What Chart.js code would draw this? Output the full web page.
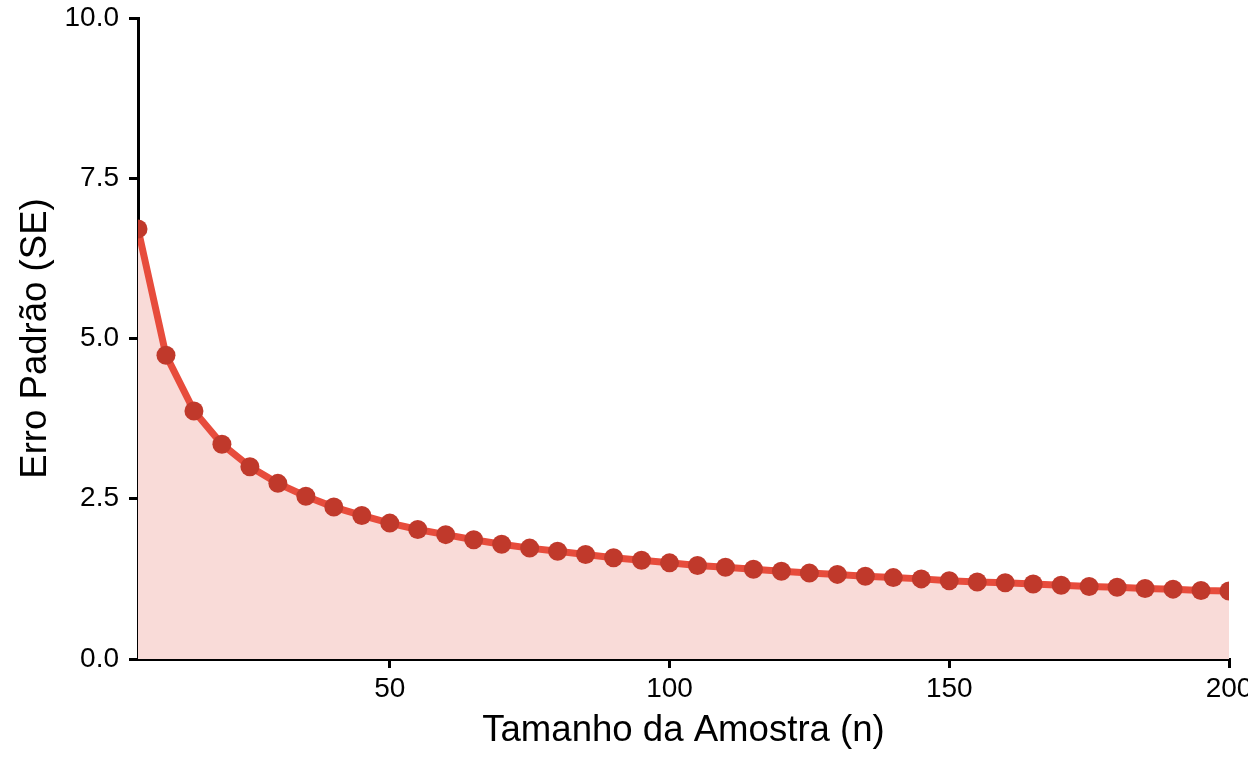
<!DOCTYPE html>
<html>
<head>
<meta charset="utf-8">
<script src="https://cdn.jsdelivr.net/npm/chart.js@4"></script>
<style>
  html, body { margin: 0; padding: 0; background: #ffffff; overflow: hidden; width: 1248px; height: 768px; }
  #wrap { width: 1248px; height: 768px; }
</style>
</head>
<body>
<div id="wrap"><canvas id="c" width="1248" height="768"></canvas></div>
<script>
// Sample size n
const sampleSizes = [5, 10, 15, 20, 25, 30, 35, 40, 45, 50, 55, 60, 65, 70, 75, 80, 85, 90, 95, 100,
  105, 110, 115, 120, 125, 130, 135, 140, 145, 150, 155, 160, 165, 170, 175, 180, 185, 190, 195, 200];
// Standard error
const standardErrors = [6.71, 4.74, 3.87, 3.35, 3.00, 2.74, 2.54, 2.37, 2.24, 2.12, 2.02, 1.94, 1.86, 1.79, 1.73,
  1.68, 1.63, 1.58, 1.54, 1.50, 1.46, 1.43, 1.40, 1.37, 1.34, 1.32, 1.29, 1.27, 1.25, 1.22,
  1.20, 1.19, 1.17, 1.15, 1.13, 1.12, 1.10, 1.09, 1.07, 1.06];
const xTicks = [50, 100, 150, 200];
const yTicks = [0, 2.5, 5, 7.5, 10];
const xTitle = 'Tamanho da Amostra (n)';
const yTitle = 'Erro Padrão (SE)';

const points = sampleSizes.map((n, i) => ({ x: n, y: standardErrors[i] }));
const FONT = 'Liberation Sans, Arial, sans-serif';

new Chart(document.getElementById('c'), {
  type: 'line',
  data: {
    datasets: [{
      data: points,
      borderColor: '#E74C3C',
      borderWidth: 7,
      backgroundColor: '#F9DBD8',
      fill: 'origin',
      tension: 0,
      pointRadius: 9.5,
      pointHoverRadius: 9.5,
      pointBorderWidth: 0,
      pointBackgroundColor: '#C0392B',
      clip: 0
    }]
  },
  options: {
    responsive: false,
    devicePixelRatio: 1,
    animation: false,
    layout: { padding: { top: 18, left: 0, right: 19, bottom: 0 } },
    plugins: { legend: { display: false }, tooltip: { enabled: false } },
    scales: {
      x: {
        type: 'linear',
        min: 5,
        max: 200,
        z: 1,
        afterBuildTicks: (s) => { s.ticks = xTicks.map(v => ({ value: v })); },
        afterFit: (s) => { s.height = 109; s.paddingLeft = 0; s.paddingRight = 0; },
        border: { display: true, color: '#000000', width: 3 },
        grid: { display: true, drawOnChartArea: false, drawTicks: true, tickLength: 9, color: '#000000', lineWidth: 3 },
        ticks: { color: '#000000', font: { family: FONT, size: 28 }, padding: 4, maxRotation: 0, autoSkip: false },
        title: { display: true, text: xTitle, color: '#000000', font: { family: FONT, size: 36.6 }, padding: { top: 0, bottom: 15 } }
      },
      y: {
        type: 'linear',
        min: 0,
        max: 10,
        z: 1,
        afterBuildTicks: (s) => { s.ticks = yTicks.map(v => ({ value: v })); },
        afterFit: (s) => { s.width = 138; s.paddingTop = 0; s.paddingBottom = 0; },
        border: { display: true, color: '#000000', width: 3 },
        grid: { display: true, drawOnChartArea: false, drawTicks: true, tickLength: 9, color: '#000000', lineWidth: 3 },
        ticks: { color: '#000000', font: { family: FONT, size: 28 }, padding: 10,
          callback: (v) => Number(v).toFixed(1) },
        title: { display: true, text: yTitle, color: '#000000', font: { family: FONT, size: 36.6 }, padding: { top: 14, bottom: 0 } }
      }
    }
  }
});
</script>
</body>
</html>
